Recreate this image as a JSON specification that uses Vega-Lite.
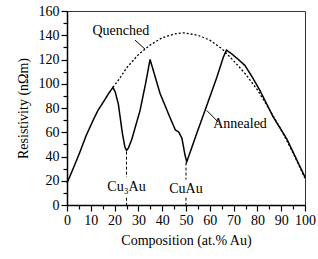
{
  "$schema": "https://vega.github.io/schema/vega-lite/v6.json",
  "autosize": "none",
  "width": 238,
  "height": 194,
  "padding": {"left": 67, "top": 11, "right": 13, "bottom": 54},
  "background": "white",
  "config": {
    "font": "Liberation Serif",
    "view": {"stroke": "#333", "strokeWidth": 1},
    "axis": {"grid": false, "domainColor": "black", "domainWidth": 1.5, "tickColor": "black", "tickWidth": 1.2, "labelFontSize": 14, "titleFontSize": 14, "titleFontWeight": "normal", "labelColor": "black", "titleColor": "black", "labelOverlap": false}
  },
  "datasets": {
    "curves": [
      {"series": "Annealed", "x": 0, "y": 18},
      {"series": "Annealed", "x": 3, "y": 32},
      {"series": "Annealed", "x": 5.5, "y": 44},
      {"series": "Annealed", "x": 8, "y": 57},
      {"series": "Annealed", "x": 11, "y": 70},
      {"series": "Annealed", "x": 13, "y": 78},
      {"series": "Annealed", "x": 15.3, "y": 85},
      {"series": "Annealed", "x": 17.5, "y": 92},
      {"series": "Annealed", "x": 19.3, "y": 97},
      {"series": "Annealed", "x": 20.3, "y": 93},
      {"series": "Annealed", "x": 21.6, "y": 83},
      {"series": "Annealed", "x": 23.2, "y": 60},
      {"series": "Annealed", "x": 24.3, "y": 48},
      {"series": "Annealed", "x": 25, "y": 45},
      {"series": "Annealed", "x": 25.8, "y": 47},
      {"series": "Annealed", "x": 27.2, "y": 54},
      {"series": "Annealed", "x": 30.7, "y": 78},
      {"series": "Annealed", "x": 33, "y": 100},
      {"series": "Annealed", "x": 34.9, "y": 120},
      {"series": "Annealed", "x": 37, "y": 106},
      {"series": "Annealed", "x": 39.1, "y": 92},
      {"series": "Annealed", "x": 43.3, "y": 72},
      {"series": "Annealed", "x": 45.5, "y": 62},
      {"series": "Annealed", "x": 47, "y": 60},
      {"series": "Annealed", "x": 48.3, "y": 55},
      {"series": "Annealed", "x": 49.5, "y": 42},
      {"series": "Annealed", "x": 50.3, "y": 35.5},
      {"series": "Annealed", "x": 52, "y": 45},
      {"series": "Annealed", "x": 54.5, "y": 59},
      {"series": "Annealed", "x": 58, "y": 78},
      {"series": "Annealed", "x": 62.9, "y": 105},
      {"series": "Annealed", "x": 65.7, "y": 122},
      {"series": "Annealed", "x": 67, "y": 127.7},
      {"series": "Annealed", "x": 69, "y": 125},
      {"series": "Annealed", "x": 72, "y": 120},
      {"series": "Annealed", "x": 74.8, "y": 115},
      {"series": "Annealed", "x": 78, "y": 105},
      {"series": "Annealed", "x": 81.1, "y": 94.3},
      {"series": "Annealed", "x": 86.7, "y": 72.4},
      {"series": "Annealed", "x": 92.3, "y": 54.7},
      {"series": "Annealed", "x": 100, "y": 23},
      {"series": "Quenched", "x": 19.3, "y": 97},
      {"series": "Quenched", "x": 22, "y": 104},
      {"series": "Quenched", "x": 25, "y": 113},
      {"series": "Quenched", "x": 30, "y": 124},
      {"series": "Quenched", "x": 35, "y": 132},
      {"series": "Quenched", "x": 40, "y": 138},
      {"series": "Quenched", "x": 45, "y": 141},
      {"series": "Quenched", "x": 49, "y": 142},
      {"series": "Quenched", "x": 55, "y": 140},
      {"series": "Quenched", "x": 60, "y": 136},
      {"series": "Quenched", "x": 65, "y": 129},
      {"series": "Quenched", "x": 70, "y": 119},
      {"series": "Quenched", "x": 75, "y": 108},
      {"series": "Quenched", "x": 80, "y": 95},
      {"series": "Quenched", "x": 85, "y": 79},
      {"series": "Quenched", "x": 90, "y": 62},
      {"series": "Quenched", "x": 95, "y": 43},
      {"series": "Quenched", "x": 100, "y": 22}
    ],
    "drops": [
      {"x": 25, "y": 44, "y2": 23},
      {"x": 25, "y": 6, "y2": 0},
      {"x": 50, "y": 35, "y2": 21},
      {"x": 50, "y": 6, "y2": 0}
    ],
    "leaders": [
      {"x": 28.6, "y": 136, "x2": 32.8, "y2": 128.5},
      {"x": 58.7, "y": 78, "x2": 63.6, "y2": 68.3}
    ],
    "labels": [
      {"x": 22.6, "y": 143.6, "text": "Quenched"},
      {"x": 72.7, "y": 67, "text": "Annealed"},
      {"x": 25, "y": 15, "text": "Cu₃Au"},
      {"x": 50, "y": 13.5, "text": "CuAu"}
    ]
  },
  "encoding": {
    "x": {"field": "x", "type": "quantitative", "scale": {"domain": [0, 100], "nice": false},
      "axis": {"title": "Composition (at.% Au)", "values": [0,5,10,15,20,25,30,35,40,45,50,55,60,65,70,75,80,85,90,95,100],
        "labelExpr": "datum.value % 10 === 0 ? datum.label : ''",
        "labelOverlap": false,
        "tickSize": {"condition": {"test": "datum.value % 10 === 0", "value": 6}, "value": 4},
        "labelPadding": 2, "titlePadding": 6, "labelFlush": false}},
    "y": {"field": "y", "type": "quantitative", "scale": {"domain": [0, 160], "nice": false},
      "axis": {"title": "Resistivity (nΩm)", "values": [0,10,20,30,40,50,60,70,80,90,100,110,120,130,140,150,160],
        "labelExpr": "datum.value % 20 === 0 ? datum.label : ''",
        "labelOverlap": false,
        "tickSize": {"condition": {"test": "datum.value % 20 === 0", "value": 6}, "value": 4},
        "labelPadding": 2, "titlePadding": 8}}
  },
  "layer": [
    {
      "data": {"name": "curves"},
      "mark": {"type": "line", "color": "black"},
      "encoding": {
        "detail": {"field": "series"},
        "strokeDash": {"field": "series", "type": "nominal", "scale": {"domain": ["Annealed", "Quenched"], "range": [[1, 0], [2, 2]]}, "legend": null},
        "strokeWidth": {"field": "series", "type": "nominal", "scale": {"domain": ["Annealed", "Quenched"], "range": [1.5, 1.3]}, "legend": null}
      }
    },
    {
      "data": {"name": "drops"},
      "mark": {"type": "rule", "color": "black", "strokeDash": [3, 2], "strokeWidth": 1},
      "encoding": {
        "y2": {"field": "y2"}
      }
    },
    {
      "data": {"name": "leaders"},
      "mark": {"type": "rule", "color": "black", "strokeWidth": 1},
      "encoding": {
        "x2": {"field": "x2"},
        "y2": {"field": "y2"}
      }
    },
    {
      "data": {"name": "labels"},
      "mark": {"type": "text", "font": "Liberation Serif", "fontSize": 14, "color": "black", "align": "center", "baseline": "middle"},
      "encoding": {
        "text": {"field": "text"}
      }
    }
  ]
}
